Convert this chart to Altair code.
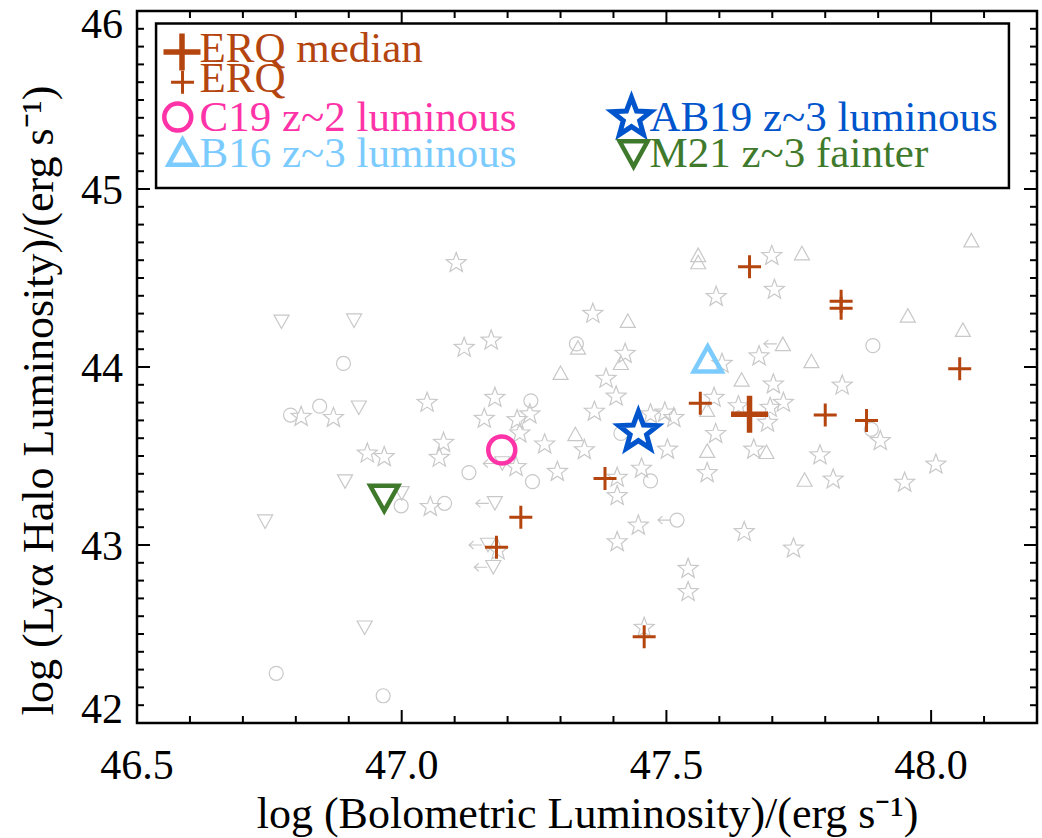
import math
import altair as alt
import pandas as pd

# ---------------- data ----------------
erq_x = [47.657, 47.830, 47.830, 48.054, 47.564, 47.800, 47.878, 47.384, 47.458, 47.225, 47.179]
erq_y = [44.563, 44.370, 44.330, 43.990, 43.796, 43.730, 43.700, 43.374, 42.485, 43.156, 42.987]
erq_median_x = [47.657]
erq_median_y = [43.734]
c19_x, c19_y = [47.189], [43.534]
b16_x, b16_y = [47.578], [44.045]
ab19_x, ab19_y = [47.447], [43.646]
m21_x, m21_y = [46.967], [43.262]

star_x = [47.103, 47.361, 47.118, 47.169, 47.048, 47.176, 46.810, 46.871, 47.156, 47.218,
          47.242, 47.223, 47.364, 47.079, 47.071, 46.935, 46.967, 47.270, 47.345, 47.216,
          47.294, 47.054, 47.182, 47.699, 47.704, 47.594, 47.422, 47.605, 47.675, 47.386,
          47.702, 47.832, 47.405, 47.590, 47.470, 47.497, 47.514, 47.636, 47.696, 47.721,
          47.691, 47.904, 47.502, 47.593, 47.665, 47.790, 48.009, 47.453, 47.577, 47.407,
          47.815, 47.950, 47.407, 47.447, 47.407, 47.647, 47.740, 47.541, 47.541, 47.458]
star_y = [44.590, 44.305, 44.114, 44.155, 43.805, 43.833, 43.726, 43.720, 43.715, 43.708,
          43.740, 43.633, 43.755, 43.580, 43.496, 43.520, 43.500, 43.571, 43.539, 43.444,
          43.417, 43.220, 42.975, 44.630, 44.440, 44.400, 44.080, 44.024, 44.066, 43.940,
          43.908, 43.902, 43.840, 43.833, 43.740, 43.750, 43.720, 43.786, 43.777, 43.805,
          43.693, 43.590, 43.542, 43.630, 43.542, 43.510, 43.458, 43.435, 43.410, 43.384,
          43.374, 43.356, 43.281, 43.115, 43.022, 43.079, 42.986, 42.872, 42.742, 42.541]

circle_x = [46.890, 47.330, 46.790, 46.845, 47.244, 47.127, 47.247, 46.999, 47.081, 46.763,
            46.965, 47.890, 47.414, 47.887, 47.470, 47.520]
circle_y = [44.020, 44.130, 43.730, 43.780, 43.810, 43.407, 43.356, 43.220, 43.234, 42.279,
            42.153, 44.120, 43.627, 43.650, 43.360, 43.140]

tri_up_x = [47.333, 47.300, 47.328, 47.560, 47.560, 47.756, 48.076, 47.427, 47.956, 48.060,
            47.414, 47.774, 47.642, 47.577, 47.577, 47.689, 47.761, 47.720]
tri_up_y = [44.110, 43.968, 43.624, 44.630, 44.590, 44.640, 44.713, 44.260, 44.290, 44.210,
            44.024, 44.034, 43.930, 43.760, 43.530, 43.524, 43.368, 44.130]

tri_down_x = [46.773, 46.910, 46.919, 46.893, 47.000, 46.742, 46.930, 47.190, 47.176, 47.163, 47.173]
tri_down_y = [44.254, 44.260, 43.771, 43.356, 43.290, 43.131, 42.535, 43.458, 43.234, 43.000, 42.875]

# points that carry a left-pointing (upper-limit) arrow
arrow_x = [47.190, 47.176, 47.163, 47.173, 47.520, 47.720]
arrow_y = [43.458, 43.234, 43.000, 42.875, 43.140, 44.130]

x_major = [46.5, 47.0, 47.5, 48.0]
x_labels = ["46.5", "47.0", "47.5", "48.0"]
y_major = [42, 43, 44, 45, 46]
y_labels = ["42", "43", "44", "45", "46"]
x_minor = [round(46.5 + 0.1 * i, 1) for i in range(1, 17) if i % 5 != 0]
y_minor = [round(42 + 0.1 * i, 1) for i in range(1, 40) if i % 10 != 0]

legend_labels = ["ERQ median", "ERQ", "C19 z~2 luminous", "B16 z~3 luminous",
                 "AB19 z~3 luminous", "M21 z~3 fainter"]

# ---------------- styling ----------------
ERQ_C = "#B5450F"
C19_C = "#FF33A8"
B16_C = "#7CCBFF"
AB19_C = "#0055CC"
M21_C = "#3F7A2C"
GRAY = "#C8C8C8"
FONT = "Liberation Serif"

W, H = 900, 712


def star_path(inner=0.42, shift=0.095):
    pts = []
    for k in range(10):
        r = 1.0 if k % 2 == 0 else inner
        a = math.radians(-90 + 36 * k)
        pts.append((r * math.cos(a), r * math.sin(a) + shift))
    return "M" + "L".join(f"{px:.3f},{py:.3f}" for px, py in pts) + "Z"


STAR = star_path()
TRI_UP = "M0,-0.9L1,0.9L-1,0.9Z"
TRI_DOWN = "M0,0.9L1,-0.9L-1,-0.9Z"
PLUS = "M-1,0L1,0M0,-1L0,1"
ARROW = "M-0.6,0L-1.9,0M-1.45,-0.4L-1.9,0L-1.45,0.4"

xs = alt.Scale(domain=[46.5, 48.2], nice=False, zero=False)
ys = alt.Scale(domain=[42, 46], nice=False, zero=False)

AX = alt.Axis(
    values=x_major, labels=False, ticks=False, tickSize=0, domain=False, grid=False,
    title="log (Bolometric Luminosity)/(erg s\u207b\u00b9)", titleFont=FONT,
    titleFontSize=44, titleFontWeight="normal", titleColor="black",
    titleY=104, titleBaseline="alphabetic")
AY = alt.Axis(
    values=y_major, labels=False, ticks=False, tickSize=0, domain=False, grid=False,
    title="log (Ly\u03b1 Halo Luminosity)/(erg s\u207b\u00b9)", titleFont=FONT,
    titleFontSize=44, titleFontWeight="normal", titleColor="black",
    titleX=-98, titleY=389, titleBaseline="middle", titleAngle=270)


def XE(field):
    return alt.X(f"{field}:Q", scale=xs, axis=AX)


def YE(field):
    return alt.Y(f"{field}:Q", scale=ys, axis=AY)


def pts(xv, yv, shape, size, sw, color):
    df = pd.DataFrame({"x": xv, "y": yv})
    return alt.Chart(df).mark_point(shape=shape, size=size, strokeWidth=sw, color=color,
                                    filled=False, opacity=1, strokeJoin="miter").encode(
        x=XE("x"), y=YE("y"))


layers = [pts(star_x, star_y, STAR, 441, 1.2, GRAY),
          pts(circle_x, circle_y, "circle", 196, 1.2, GRAY),
          pts(tri_up_x, tri_up_y, TRI_UP, 225, 1.2, GRAY),
          pts(tri_down_x, tri_down_y, TRI_DOWN, 225, 1.2, GRAY),
          pts(arrow_x, arrow_y, ARROW, 400, 1.2, GRAY),
          pts(erq_x, erq_y, PLUS, 529, 3, ERQ_C),
          pts(c19_x, c19_y, "circle", 729, 4.5, C19_C),
          pts(b16_x, b16_y, TRI_UP, 784, 4.5, B16_C),
          pts(ab19_x, ab19_y, STAR, 1681, 5, AB19_C),
          pts(m21_x, m21_y, TRI_DOWN, 784, 4.5, M21_C),
          pts(erq_median_x, erq_median_y, PLUS, 1369, 5.5, ERQ_C)]


# inward ticks on all four sides
def xticks(vals, length):
    df = pd.DataFrame({"x": vals})
    b = alt.Chart(df).mark_rule(color="black", strokeWidth=2).encode(
        x=XE("x"), y=alt.value(H), y2=alt.value(H - length))
    t = alt.Chart(df).mark_rule(color="black", strokeWidth=2).encode(
        x=XE("x"), y=alt.value(0), y2=alt.value(length))
    return [b, t]


def yticks(vals, length):
    df = pd.DataFrame({"y": vals})
    l = alt.Chart(df).mark_rule(color="black", strokeWidth=2).encode(
        y=YE("y"), x=alt.value(0), x2=alt.value(length))
    r = alt.Chart(df).mark_rule(color="black", strokeWidth=2).encode(
        y=YE("y"), x=alt.value(W), x2=alt.value(W - length))
    return [l, r]


layers += xticks(x_major, 13) + xticks(x_minor, 7) + yticks(y_major, 13) + yticks(y_minor, 7)

# tick labels (serif, placed on the scales)
xl = pd.DataFrame({"x": x_major, "label": x_labels})
layers.append(alt.Chart(xl).mark_text(align="center", baseline="alphabetic", font=FONT,
                                      fontSize=42, color="black").encode(
    x=XE("x"), y=alt.value(H + 56), text="label:N"))

yl = pd.DataFrame({"y": y_major, "label": y_labels})
for sel, dy in ((yl["y"] == 46, 27), ((yl["y"] > 42) & (yl["y"] < 46), 15), (yl["y"] == 42, 0)):
    layers.append(alt.Chart(yl[sel]).mark_text(align="right", baseline="alphabetic", font=FONT,
                                               fontSize=42, color="black", dy=dy).encode(
        y=YE("y"), x=alt.value(-14), text="label:N"))

# legend box (in data coordinates)
box = pd.DataFrame({"x": [46.536], "x2": [48.147], "y": [45.005], "y2": [45.93]})
layers.append(alt.Chart(box).mark_rect(fill="white", stroke="black", strokeWidth=2.5).encode(
    x=XE("x"), x2="x2:Q", y=YE("y"), y2="y2:Q"))

leg_sym = pd.DataFrame({
    "x": [46.585, 46.586, 46.577, 46.586, 47.434, 47.438],
    "y": [45.770, 45.600, 45.404, 45.207, 45.410, 45.197],
    "shape": [PLUS, PLUS, "circle", TRI_UP, STAR, TRI_DOWN],
    "size": [1369, 529, 729, 784, 1681, 784],
    "sw": [5.5, 3, 4.5, 4.5, 5, 4.5],
    "color": [ERQ_C, ERQ_C, C19_C, B16_C, AB19_C, M21_C],
})
layers.append(alt.Chart(leg_sym).mark_point(filled=False, opacity=1, strokeJoin="miter").encode(
    x=XE("x"), y=YE("y"),
    shape=alt.Shape("shape:N", scale=None),
    size=alt.Size("size:Q", scale=None),
    strokeWidth=alt.StrokeWidth("sw:Q", scale=None),
    color=alt.Color("color:N", scale=None)))

leg_txt = pd.DataFrame({
    "x": [46.618, 46.618, 46.618, 46.618, 47.468, 47.468],
    "y": [45.713, 45.545, 45.326, 45.124, 45.326, 45.124],
    "label": legend_labels,
    "color": [ERQ_C, ERQ_C, C19_C, B16_C, AB19_C, M21_C],
})
layers.append(alt.Chart(leg_txt).mark_text(align="left", baseline="alphabetic", font=FONT,
                                           fontSize=43).encode(
    x=XE("x"), y=YE("y"), text="label:N", color=alt.Color("color:N", scale=None)))

chart = alt.layer(*layers).properties(
    width=W, height=H,
    autosize=alt.AutoSizeParams(type="none"),
    padding={"left": 137, "top": 11, "right": 5, "bottom": 115},
    background="white",
).configure_view(stroke="black", strokeWidth=2.5).configure_axis(
    titleFont=FONT, titleColor="black"
).configure_text(font=FONT)

chart.save("out.html", embed_options={"renderer": "svg", "actions": False})
